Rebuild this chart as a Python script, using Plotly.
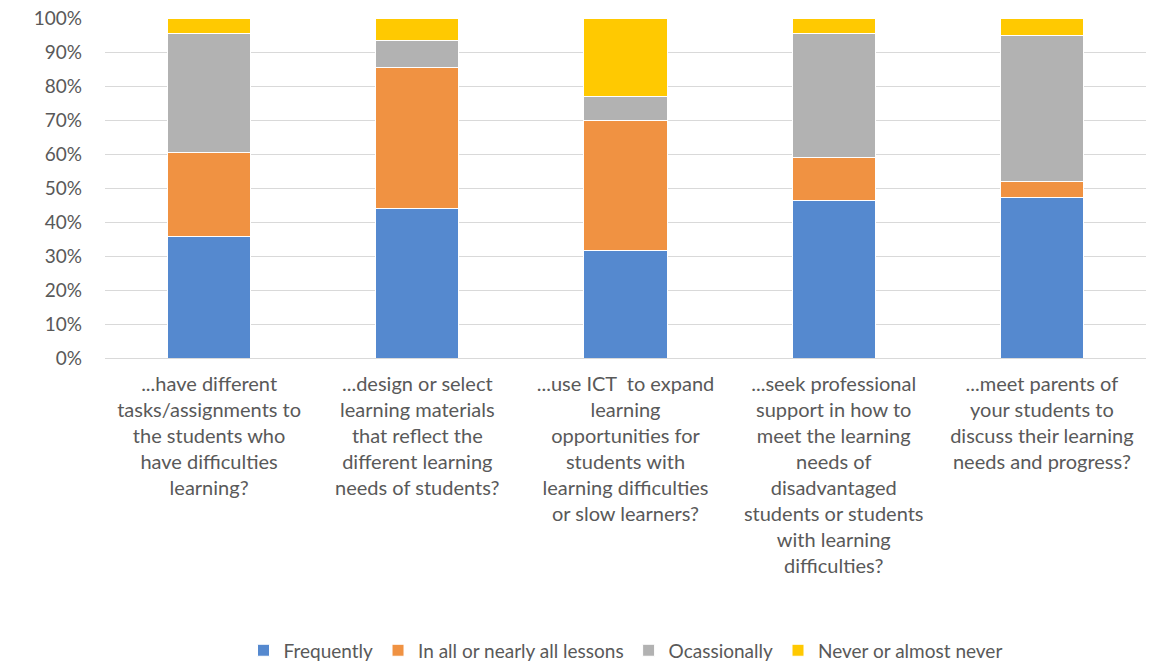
import plotly.graph_objects as go

# Question categories (x axis)
categories = [
    "...have different<br>tasks/assignments to<br>the students who<br>have difficulties<br>learning?",
    "...design or select<br>learning materials<br>that reflect the<br>different learning<br>needs of students?",
    "...use ICT  to expand<br>learning<br>opportunities for<br>students with<br>learning difficulties<br>or slow learners?",
    "...seek professional<br>support in how to<br>meet the learning<br>needs of<br>disadvantaged<br>students or students<br>with learning<br>difficulties?",
    "...meet parents of<br>your students to<br>discuss their learning<br>needs and progress?",
]

# Shares in percent
frequently = [35.6, 43.9, 31.7, 46.3, 47.3]
all_lessons = [24.7, 41.5, 38.1, 12.7, 4.6]
occasionally = [35.0, 7.9, 7.1, 36.3, 42.9]
never = [4.7, 6.7, 23.1, 4.7, 5.2]

series_names = ["Frequently", "In all or nearly all lessons", "Ocassionally", "Never or almost never"]
series_values = [frequently, all_lessons, occasionally, never]
colors = ["#5589cf", "#f09242", "#b2b2b2", "#ffc901"]

font_family = "Lato, 'Open Sans', sans-serif"

fig = go.Figure()
for name, vals, col in zip(series_names, series_values, colors):
    fig.add_trace(go.Bar(
        x=list(range(len(categories))),
        y=vals,
        name=name,
        marker=dict(color=col, line=dict(color="white", width=1)),
    ))

fig.update_layout(
    barmode="stack",
    bargap=0.6,
    width=1166,
    height=664,
    margin=dict(l=105, r=20, t=18, b=306, autoexpand=False),
    plot_bgcolor="white",
    paper_bgcolor="white",
    font=dict(family=font_family, size=19, color="#595959"),
    legend=dict(
        orientation="h",
        x=0.5, xanchor="center",
        y=-0.86, yanchor="middle",
        font=dict(size=19, color="#595959"),
        traceorder="normal",
        itemwidth=30,
    ),
)

fig.update_xaxes(
    tickmode="array",
    tickvals=list(range(len(categories))),
    ticktext=categories,
    tickfont=dict(size=20),
    showgrid=False,
    showline=True,
    linecolor="#d9d9d9",
    linewidth=1,
    ticks="",
    automargin=False,
    ticklabelstandoff=8,
)

fig.update_yaxes(
    range=[0, 100],
    tickvals=[0, 10, 20, 30, 40, 50, 60, 70, 80, 90, 100],
    ticktext=[f"{v}%" for v in range(0, 101, 10)],
    tickfont=dict(size=19),
    gridcolor="#d9d9d9",
    gridwidth=1,
    zeroline=False,
    ticks="",
    ticklabelstandoff=22,
    automargin=False,
)

# drop the default page margin so the figure sits at the window's corner
fig.write_html(
    "out.html",
    config=dict(displayModeBar=False),
    post_script="document.body.style.margin = '0';",
)
